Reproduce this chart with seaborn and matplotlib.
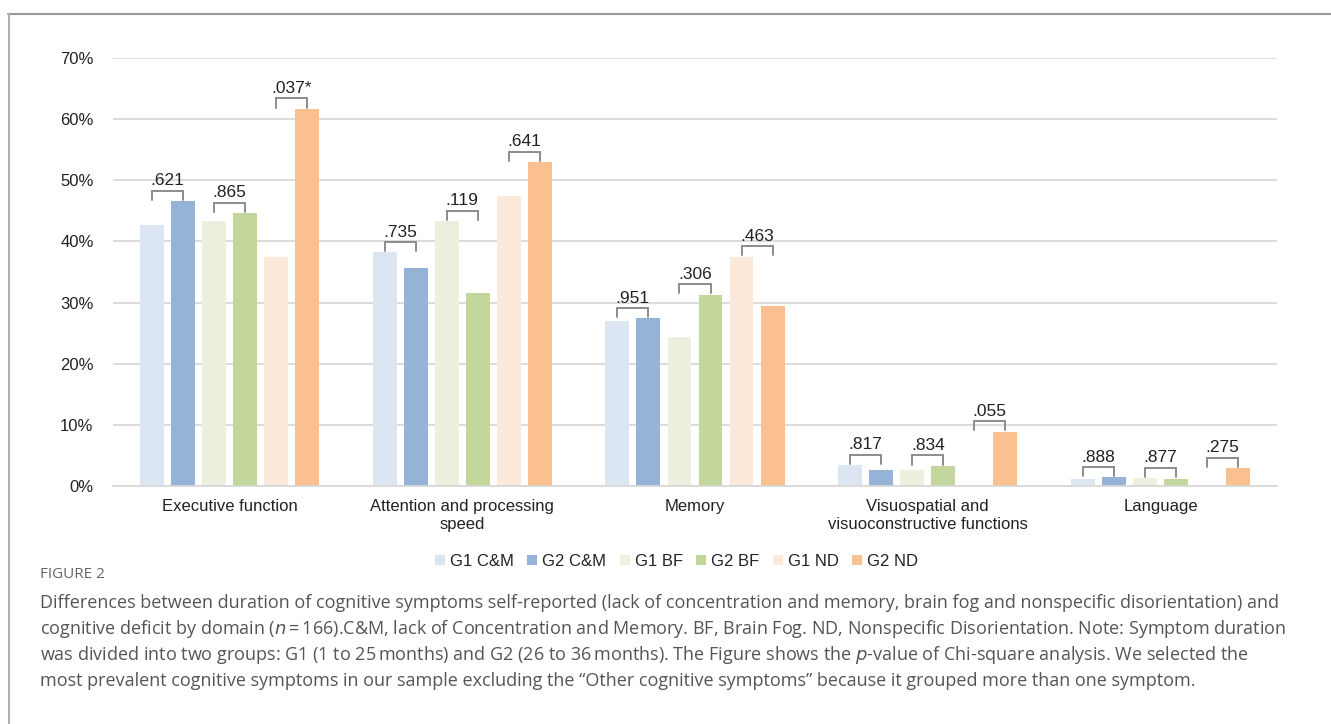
import pandas as pd
import seaborn as sns
import matplotlib.pyplot as plt
from matplotlib.ticker import PercentFormatter
from matplotlib.lines import Line2D

# ---- data ----
domains = ["Executive function", "Attention and processing\nspeed", "Memory",
           "Visuospatial and\nvisuoconstructive functions", "Language"]
groups = ["G1 C&M", "G2 C&M", "G1 BF", "G2 BF", "G1 ND", "G2 ND"]
g1_cm = [42.7, 38.2, 27.0, 3.4, 1.1]
g2_cm = [46.6, 35.7, 27.4, 2.7, 1.4]
g1_bf = [43.3, 43.3, 24.3, 2.7, 1.3]
g2_bf = [44.6, 31.5, 31.3, 3.3, 1.1]
g1_nd = [37.5, 47.5, 37.5, 0.0, 0.0]
g2_nd = [61.7, 53.0, 29.5, 8.9, 2.9]
p_cm = [".621", ".735", ".951", ".817", ".888"]
p_bf = [".865", ".119", ".306", ".834", ".877"]
p_nd = [".037*", ".641", ".463", ".055", ".275"]

colors = ["#dce6f2", "#95b3d7", "#ebf1de", "#c3d69b", "#fde9d9", "#fac090"]

rows = []
for g, vals in zip(groups, [g1_cm, g2_cm, g1_bf, g2_bf, g1_nd, g2_nd]):
    for d, v in zip(domains, vals):
        rows.append({"domain": d, "group": g, "value": v / 100})
df = pd.DataFrame(rows)

sns.set_theme(style="white")
plt.rcParams['font.family'] = ['Liberation Sans', 'DejaVu Sans']

fig = plt.figure(figsize=(13.31, 7.24), dpi=100)
ax = fig.add_axes([0.0849, 0.3287, 0.8745, 0.5912])

sns.barplot(data=df, x="domain", y="value", hue="group", order=domains,
            hue_order=groups, palette=colors, gap=0.23, saturation=1,
            linewidth=0, legend=False, ax=ax)

ax.set_ylim(0, 0.7)
ax.set_yticks([i / 10 for i in range(8)])
ax.yaxis.set_major_formatter(PercentFormatter(1.0, decimals=0))
ax.grid(axis="y", color="#d9d9d9", linewidth=1.3)
ax.set_axisbelow(True)
for s in ["top", "right", "left"]:
    ax.spines[s].set_visible(False)
ax.spines["bottom"].set_color("#d9d9d9")
ax.spines["bottom"].set_linewidth(1.3)
ax.set_xlim(-0.5, len(domains) - 0.5)
ax.tick_params(axis="both", length=0, labelsize=12, colors="#222222")
ax.tick_params(axis="y", pad=14)
ax.tick_params(axis="x", pad=9)
ax.set_xlabel("")
ax.set_ylabel("")
for lab in ax.get_xticklabels():
    lab.set_linespacing(1.25)

# p-value brackets between G1/G2 pairs
for pair, labels in zip([(0, 1), (2, 3), (4, 5)], [p_cm, p_bf, p_nd]):
    c1, c2 = ax.containers[pair[0]], ax.containers[pair[1]]
    for b1, b2, txt in zip(c1, c2, labels):
        x1 = b1.get_x() + b1.get_width() / 2
        x2 = b2.get_x() + b2.get_width() / 2
        y0 = max(b1.get_height(), b2.get_height()) + 0.002
        y1 = y0 + 0.015
        ax.plot([x1, x1, x2, x2], [y0, y1, y1, y0], color="#8c8c8c", lw=1.4,
                solid_joinstyle="miter", clip_on=False)
        ax.text((x1 + x2) / 2, y1 + 0.004, txt, ha="center", va="bottom",
                fontsize=12.5, color="#222222")

handles = [Line2D([], [], marker="s", linestyle="", markersize=7.5,
                  markerfacecolor=c, markeredgewidth=0) for c in colors]
fig.legend(handles, groups, loc="center", bbox_to_anchor=(0.508, 0.225),
           ncol=6, frameon=False, fontsize=12, handletextpad=0.25,
           columnspacing=0.75, handlelength=0.7, labelcolor="#222222")

# frame of the figure panel
fig.add_artist(Line2D([0.006, 1.0], [0.981, 0.981], color="#9a9a9a", lw=1.5))
fig.add_artist(Line2D([0.0068, 0.0068], [0.0, 0.981], color="#b0b0b0", lw=1.5))

# caption
cap_font = ['Open Sans', 'DejaVu Sans']
fig.text(0.030, 1 - 575 / 724, "FIGURE 2", fontsize=11, color="#666666",
         family=cap_font, va="center")
cap_lines = [
    "Differences between duration of cognitive symptoms self-reported (lack of concentration and memory, brain fog and nonspecific disorientation) and",
    "cognitive deficit by domain ($\\it{n}$\u2009=\u2009166).C&M, lack of Concentration and Memory. BF, Brain Fog. ND, Nonspecific Disorientation. Note: Symptom duration",
    "was divided into two groups: G1 (1 to 25\u2009months) and G2 (26 to 36\u2009months). The Figure shows the $\\it{p}$-value of Chi-square analysis. We selected the",
    "most prevalent cognitive symptoms in our sample excluding the \u201cOther cognitive symptoms\u201d because it grouped more than one symptom.",
]
for i, line in enumerate(cap_lines):
    fig.text(0.030, 1 - (603 + 26 * i) / 724, line, fontsize=13,
             color="#555555", family=cap_font, va="center")

plt.savefig("out.png", dpi=100)
